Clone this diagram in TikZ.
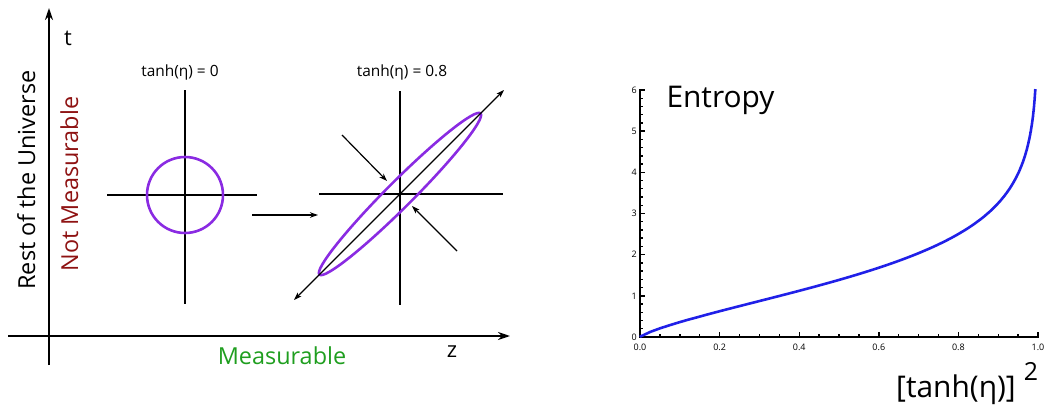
\documentclass[tikz,border=0pt]{standalone}
\usepackage{fontspec}
\setmainfont{Open Sans}
\usepackage{xcolor}
\definecolor{squeeze}{HTML}{8A2BE2}
\definecolor{notmeas}{HTML}{8E1212}
\definecolor{meas}{HTML}{1F9E1F}
\definecolor{entropyblue}{HTML}{2020E8}
\usetikzlibrary{calc,arrows.meta}
\newcommand{\fs}[1]{\fontsize{#1}{#1}\selectfont}

\begin{document}
\begin{tikzpicture}[
		x=1bp,
		y=1bp,
		>=Stealth,
		axis/.style={line width=2pt},
		cross/.style={line width=1.9pt},
		flow/.style={line width=1.2pt, -{Stealth[length=8pt,width=5.5pt]}},
		twoway/.style={line width=1.2pt, {Stealth[length=8pt,width=5.5pt]}-{Stealth[length=8pt,width=5.5pt]}}
	]
	\useasboundingbox (0,0) rectangle (1045,407);

	\def\Ox{49}\def\Oy{71}
	\def\Ax{185}\def\Ay{212}
	\def\Bx{400}\def\By{213}
	\def\Rc{38}

	\coordinate (O) at (\Ox,\Oy);
	\coordinate (A) at (\Ax,\Ay);
	\coordinate (B) at (\Bx,\By);

	% Axes of the bipartite picture
	\draw[axis, -{Stealth[length=12pt,width=8pt]}] (\Ox,42) -- (\Ox,399);
	\draw[axis, -{Stealth[length=12pt,width=8pt]}] (8,\Oy) -- (510,\Oy);
	\node (tlab) at (68,362) [anchor=base] {\fs{22}t};
	\node (zlab) at (452,50) [anchor=base] {\fs{22}z};
	\node[rotate=90, anchor=base] (rest) at (35,227) {\fs{23.5}Rest of the Universe};
	\node[rotate=90, anchor=base, notmeas] (notm) at (78,223) {\fs{23.5}Not Measurable};
	\node[anchor=base, meas] (meas) at (282,43) {\fs{23.5}Measurable};

	% Unsqueezed state
	\node (lab0) at (180,331) [anchor=base] {\fs{15.5}tanh(η) = 0};
	\draw[cross] (\Ax,317) -- (\Ax,103);
	\draw[cross] (107,\Ay) -- (257,\Ay);
	\draw[squeeze, line width=2.6pt] (A) circle (\Rc);

	% Boost
	\coordinate (go0) at (252,192);
	\coordinate (go1) at (318,192);
	\draw[flow] (go0) -- (go1);

	% Squeezed state
	\node (lab8) at (402,331) [anchor=base] {\fs{15.5}tanh(η) = 0.8};
	\draw[cross] (\Bx,316) -- (\Bx,102);
	\draw[cross] (319,\By) -- (503,\By);
	\draw[squeeze, line width=2.6pt, rotate around={45:(B)}] (B) ellipse (114 and 13);
	\coordinate (st0) at ($(B)+(-106,-106)$);
	\coordinate (st1) at ($(B)+(104,104)$);
	\draw[twoway] (st0) -- (st1);
	\coordinate (sq0) at ($(B)+(-58,59)$);
	\coordinate (sq1) at ($(B)+(-13,13)$);
	\coordinate (sq2) at ($(B)+(57,-57)$);
	\coordinate (sq3) at ($(B)+(12,-12)$);
	\draw[flow] (sq0) -- (sq1);
	\draw[flow] (sq2) -- (sq3);

	% Entropy plot
	\def\Px{640}\def\Py{70}
	\def\Sx{398}\def\Sy{41.17}
	\coordinate (P) at (\Px,\Py);
	\foreach \k in {0,...,20}
		\draw[line width=1.4pt] (\Px+\Sx*\k/20,\Py) -- ++(0,2.8);
	\foreach \k/\lab in {0/0.0,1/0.2,2/0.4,3/0.6,4/0.8,5/1.0}{
		\draw[line width=1.4pt] (\Px+\Sx*\k/5,\Py) -- ++(0,4.8);
		\node[anchor=base] at (\Px+\Sx*\k/5,57) {\fs{9}\lab};
	}
	\foreach \k in {0,...,30}
		\draw[line width=1.4pt] (\Px,\Py+\Sy*\k/5) -- ++(2.8,0);
	\foreach \k in {0,...,6}{
		\draw[line width=1.4pt] (\Px,\Py+\Sy*\k) -- ++(4.8,0);
		\node[anchor=east, inner sep=0pt] at (\Px-3,\Py+\Sy*\k) {\fs{9}\k};
	}
	\draw[axis, line cap=rect] (\Px,\Py+6*\Sy) -- (P) -- (\Px+\Sx,\Py);
	\draw[entropyblue, line width=2.6pt] (P) -- plot[domain=0.002:5.0, samples=200]
		({\Px+\Sx*(1-exp(-\x))},{\Py+\Sy*(\x-(exp(\x)-1)*ln(1-exp(-\x)))});
	\node[anchor=base west] (ent) at (663,300) {\fs{30}Entropy};
	\node[anchor=base] (xlab) at (956,10) {\fs{30}[tanh(η)]};
	\node (sq) at (1031,36) {\fs{25}2};
\end{tikzpicture}
\end{document}
